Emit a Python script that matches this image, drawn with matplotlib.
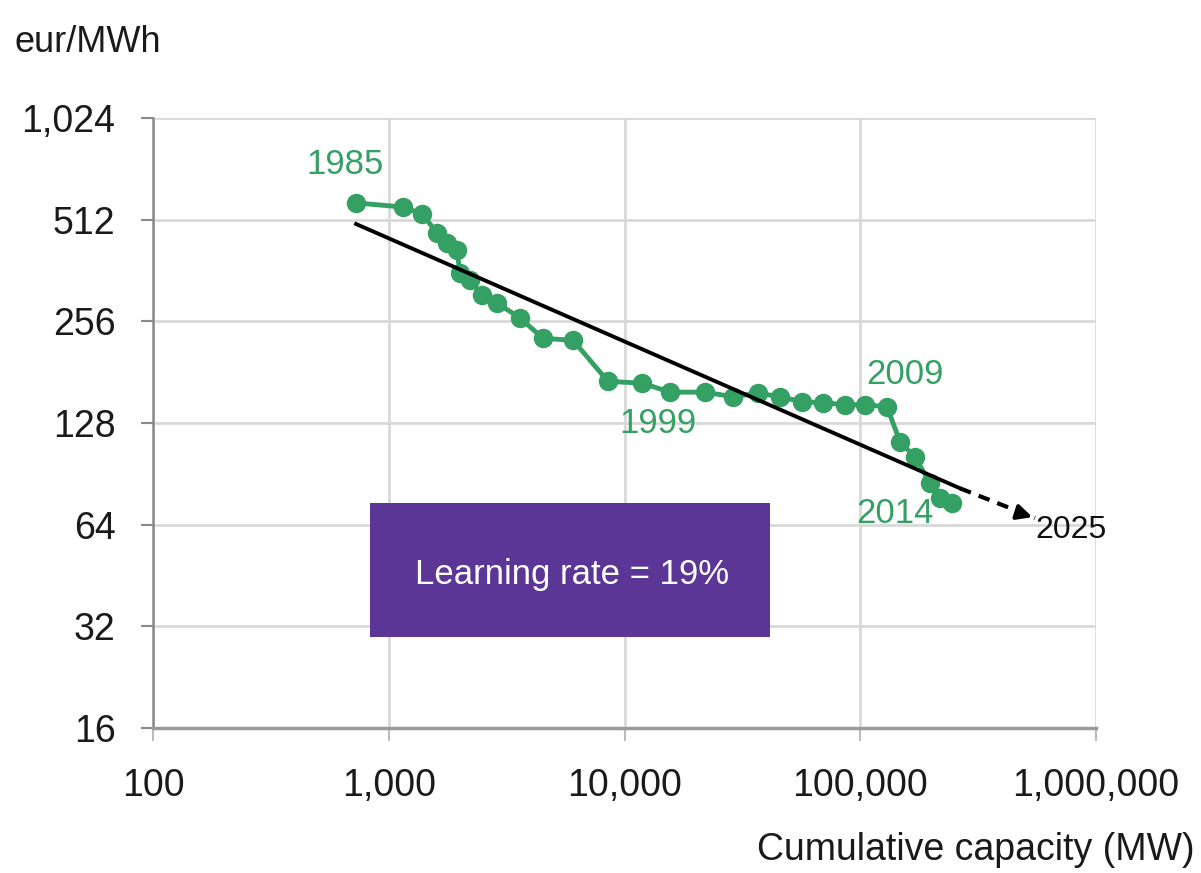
import matplotlib
matplotlib.use("Agg")
import matplotlib.pyplot as plt
from matplotlib.ticker import FixedLocator, FuncFormatter, NullLocator
from matplotlib.patches import Rectangle

plt.rcParams['font.family'] = ['Liberation Sans', 'DejaVu Sans']

# Data
capacity_mw = [727, 1148, 1384, 1603, 1766, 1946, 2005, 2213, 2487, 2878,
               3603, 4510, 6050, 8510, 11860, 15600, 21950, 28850, 36840, 45700,
               56600, 69500, 86100, 104700, 129800, 147500, 170600, 197700, 217800, 245000]
cost_eur_mwh = [574, 558, 532, 468, 437, 416, 356, 339, 306, 290,
                262, 228, 225, 170, 168, 158, 158, 153, 157, 153,
                148, 147, 145, 145, 143, 112.5, 101.6, 85, 77, 74]
years = list(range(1985, 2015))
labelled_years = [1985, 1999, 2009, 2014]

trend_x = [727, 265000]
trend_y = [497, 82]
proj_x = [265000, 551000]
proj_y = [82, 67]
proj_label = "2025"

x_ticks = [100, 1000, 10000, 100000, 1000000]
y_ticks = [16, 32, 64, 128, 256, 512, 1024]

GREEN = '#35a064'
PURPLE = '#5b3696'

fig = plt.figure(figsize=(12.01, 8.73), dpi=100)
ax = fig.add_axes([153/1201, 145/873, 943/1201, 610/873])
ax.set_xscale('log')
ax.set_yscale('log', base=2)
ax.set_xlim(100, 1000000)
ax.set_ylim(16, 1024)

ax.xaxis.set_major_locator(FixedLocator(x_ticks))
ax.yaxis.set_major_locator(FixedLocator(y_ticks))
ax.xaxis.set_minor_locator(NullLocator())
ax.yaxis.set_minor_locator(NullLocator())
fmt = FuncFormatter(lambda v, p: f"{int(round(v)):,}")
ax.xaxis.set_major_formatter(fmt)
ax.yaxis.set_major_formatter(fmt)

ax.grid(True, color='#d9d9d9', linewidth=2, zorder=0)
for s in ['top', 'right']:
    ax.spines[s].set_visible(False)
ax.spines['left'].set_color('#8a8a8a')
ax.spines['left'].set_linewidth(1.8)
ax.spines['bottom'].set_color('#9a9a9a')
ax.spines['bottom'].set_linewidth(2.5)
ax.tick_params(axis='y', length=9, width=1.5, color='#8a8a8a', pad=18, labelsize=27, labelcolor='#1a1a1a')
ax.tick_params(axis='x', length=9, width=1.5, color='#bbbbbb', pad=20, labelsize=27, labelcolor='#1a1a1a')

# data series
ax.plot(capacity_mw, cost_eur_mwh, color=GREEN, linewidth=3.5, marker='o',
        markersize=13, zorder=3)

# trend and projection
ax.plot(trend_x, trend_y, color='black', linewidth=2.8, zorder=4)
ax.plot(proj_x, proj_y, color='black', linewidth=3, linestyle=(0, (2.8, 2)), zorder=4)
ax.annotate('', xy=(proj_x[1], proj_y[1]),
            xytext=(proj_x[1] * 0.82, proj_y[1] * 1.045),
            arrowprops=dict(arrowstyle='-|>,head_length=0.9,head_width=0.45',
                            color='black', lw=2.8), zorder=5)
ax.annotate(proj_label, xy=(proj_x[1], proj_y[1]), xytext=(36, -12),
            textcoords='offset pixels', ha='center', va='center',
            fontsize=23, color='#111111')

offsets = {1985: (-11, 38), 1999: (16, -40), 2009: (18, 32), 2014: (-57, -10)}
for yr in labelled_years:
    i = years.index(yr)
    ax.annotate(str(yr), xy=(capacity_mw[i], cost_eur_mwh[i]), xytext=offsets[yr],
                textcoords='offset pixels', ha='center', va='center',
                fontsize=25, color=GREEN, zorder=6)

# Learning rate box
ax.add_patch(Rectangle((0.230, 0.149), 0.424, 0.220, transform=ax.transAxes,
                       facecolor=PURPLE, edgecolor='none', zorder=5))
ax.text(0.4447, 0.252, 'Learning rate = 19%', transform=ax.transAxes,
        ha='center', va='center', fontsize=25, color='white', zorder=6)

fig.text(15/1201, 1 - 42/873, 'eur/MWh', ha='left', va='center', fontsize=26, color='#1a1a1a')
fig.text(1195/1201, 1 - 850/873, 'Cumulative capacity (MW)', ha='right', va='center',
         fontsize=27, color='#1a1a1a')

fig.savefig('out.png', dpi=100, facecolor='white')
